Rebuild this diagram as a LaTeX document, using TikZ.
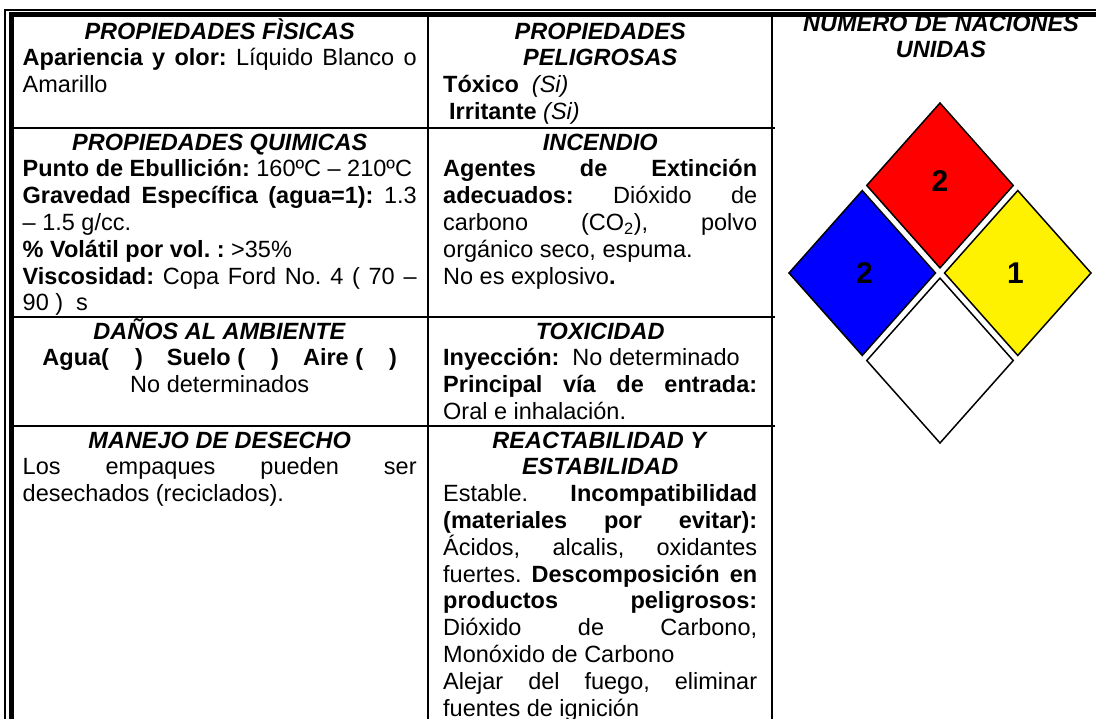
\documentclass[tikz,border=0pt]{standalone}
\usepackage{fontspec}
\setmainfont{Liberation Sans}
\usetikzlibrary{positioning, calc}
\frenchspacing

\newcommand\cellfont{\fontsize{23.5}{26.8}\selectfont\parindent=0pt}
\newcommand\topstrut{\rule{0pt}{22pt}}
\newcommand\jl[1]{\makebox[\hsize][s]{\spaceskip=0pt\xspaceskip=0pt #1}}
\newcommand\cl[1]{\makebox[\hsize][c]{#1}}
\newcommand\hd[1]{\cl{\textbf{\textit{#1}}}}

\tikzset{
  cell/.style={anchor=north west, inner sep=0pt, align=left, font=\cellfont,
    execute at begin node={\spaceskip=0pt\xspaceskip=0pt}},
  colA/.style={cell, text width=394pt},
  colB/.style={cell, text width=314pt},
  rule/.style={line width=1.8pt},
  quad/.style={line width=1.5pt, line join=miter},
  digit/.style={inner sep=0pt, font=\bfseries\fontsize{30}{30}\selectfont}
}

\begin{document}
\begin{tikzpicture}[x=1pt, y=-1pt]
        \useasboundingbox (0,0) rectangle (1096,719);

        % column 1
        \node[colA] (fisicas) at (22.5,17) {\topstrut\hd{PROPIEDADES FÌSICAS}\\
          \jl{\textbf{Apariencia y olor:} Líquido Blanco o}\\
          Amarillo};
        \node[colA] (quimicas) at (22.5,128) {\topstrut\hd{PROPIEDADES QUIMICAS}\\
          \textbf{Punto de Ebullición:} 160ºC – 210ºC\\
          \jl{\textbf{Gravedad Específica (agua=1):} 1.3}\\
          – 1.5 g/cc.\\
          \textbf{\% Volátil por vol. :} >35\%\\
          \jl{\textbf{Viscosidad:} Copa Ford No. 4 ( 70 –}\\
          90 )~~s};
        \node[colA] (ambiente) at (22.5,317) {\topstrut\hd{DAÑOS AL AMBIENTE}\\
          \cl{\textbf{Agua(\hspace{26pt})\hspace{24pt}Suelo (\hspace{26pt})\hspace{24pt}Aire (\hspace{26pt})}}\\
          \cl{No determinados}};
        \node[colA] (desecho) at (22.5,426) {\topstrut\hd{MANEJO DE DESECHO}\\
          \jl{Los empaques pueden ser}\\
          desechados (reciclados).};

        % column 2
        \node[colB] (peligrosas) at (443,17) {\topstrut\hd{PROPIEDADES}\\
          \hd{PELIGROSAS}\\
          \textbf{Tóxico}~~\textit{(Si)}\\
          \hspace*{6pt}\textbf{Irritante} \textit{(Si)}};
        \node[colB] (incendio) at (443,128) {\topstrut\hd{INCENDIO}\\
          \jl{\textbf{Agentes de Extinción}}\\
          \jl{\textbf{adecuados:} Dióxido de}\\
          \jl{carbono (CO\textsubscript{2}), polvo}\\
          orgánico seco, espuma.\\
          No es explosivo\textbf{.}};
        \node[colB] (toxicidad) at (443,317) {\topstrut\hd{TOXICIDAD}\\
          \textbf{Inyección:}~~No determinado\\
          \jl{\textbf{Principal vía de entrada:}}\\
          Oral e inhalación.};
        \node[colB] (reactividad) at (443,426) {\topstrut\hd{REACTABILIDAD Y}\\
          \hd{ESTABILIDAD}\\
          \jl{Estable. \textbf{Incompatibilidad}}\\
          \jl{\textbf{(materiales por evitar):}}\\
          \jl{Ácidos, alcalis, oxidantes}\\
          \jl{fuertes. \textbf{Descomposición en}}\\
          \jl{\textbf{productos peligrosos:}}\\
          \jl{Dióxido de Carbono,}\\
          Monóxido de Carbono\\
          \jl{Alejar del fuego, eliminar}\\
          fuentes de ignición};

        % column 3
        \node[cell, align=center, text width=300pt, anchor=north] (onu) at (941,9)
          {\topstrut\textbf{\textit{NÚMERO DE NACIONES}}\\ \textbf{\textit{UNIDAS}}};

        % frame
        \fill[white] (0,0) rectangle (1096,16.5);
        \draw[line width=1.5pt] (5,719) -- (5,10) -- (1096,10);
        \draw[line width=4.5pt] (11.5,719) -- (11.5,14.5) -- (1096,14.5);
        \foreach \x in {428,772}
          \draw[rule] (\x,16) -- (\x,719);
        \foreach \y in {128,317,426}
          \draw[rule] (13,\y) -- (775,\y);

        % hazard diamond
        \coordinate (ctr) at (940,273);
        \coordinate (top) at (940,103);
        \coordinate (bot) at (940,443);
        \coordinate (lft) at (789,273);
        \coordinate (rgt) at (1091,273);
        \coordinate (tlm) at ($(top)!0.5!(lft)$);
        \coordinate (trm) at ($(top)!0.5!(rgt)$);
        \coordinate (blm) at ($(bot)!0.5!(lft)$);
        \coordinate (brm) at ($(bot)!0.5!(rgt)$);
        \foreach \a/\m/\n/\col in {top/tlm/trm/red, lft/tlm/blm/blue, rgt/trm/brm/yellow, bot/blm/brm/white}
          \filldraw[quad, fill=\col] (\a) -- ($(\a)!0.97!(\m)$) -- ($(\a)!0.97!(ctr)$) -- ($(\a)!0.97!(\n)$) -- cycle;

        \node[digit] (salud) at ($(lft)!0.5!(ctr)$) {2};
        \node[digit] (fuego) at ($(top)!0.46!(ctr)$) {2};
        \node[digit] (reaccion) at ($(rgt)!0.5!(ctr)$) {1};
      \end{tikzpicture}
\end{document}
